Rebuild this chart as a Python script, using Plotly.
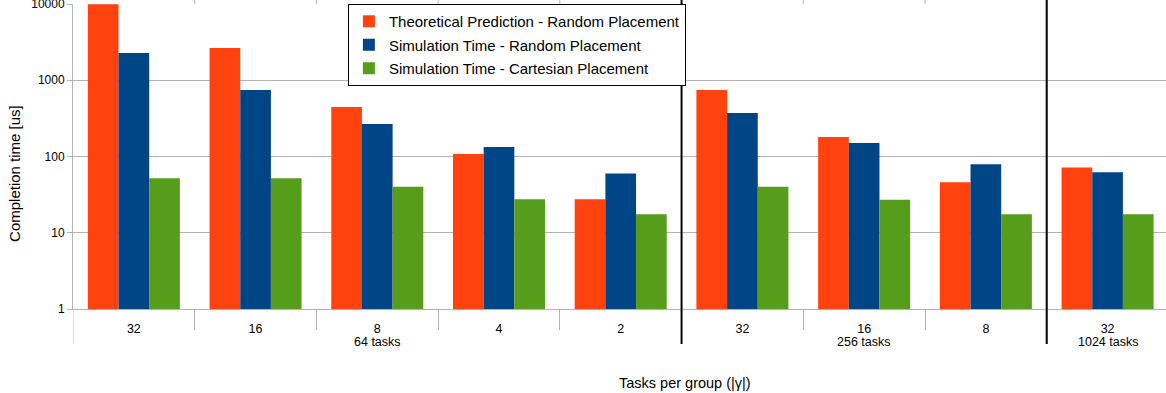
import plotly.graph_objects as go

# Tasks per group, grouped by total task count
group_names = ["64 tasks", "256 tasks", "1024 tasks"]
group_sizes = [5, 3, 1]
tick_labels = ["32", "16", "8", "4", "2", "32", "16", "8", "32"]

series_names = [
    "Theoretical Prediction - Random Placement",
    "Simulation Time - Random Placement",
    "Simulation Time - Cartesian Placement",
]
theoretical_random = [9900, 2650, 445, 108, 27.5, 745, 180, 46, 72]
simulation_random = [2280, 745, 268, 133, 60, 372, 150, 79, 62]
simulation_cartesian = [52, 52, 40, 27.5, 17.5, 40, 27, 17.5, 17.5]

colors = ["#FF420E", "#004586", "#579D1C"]
GRID = "#b3b3b3"
FONT = "Liberation Sans, Arial, sans-serif"

x_pos = list(range(len(tick_labels)))

fig = go.Figure()
for name, vals, col in zip(series_names,
                           [theoretical_random, simulation_random, simulation_cartesian],
                           colors):
    fig.add_trace(go.Bar(
        x=x_pos, y=vals, name=name, marker=dict(color=col, line=dict(width=0)),
        legendgroup=name,
    ))

# boundaries between categories and between task-count groups
boundaries = [i + 0.5 for i in range(len(tick_labels) - 1)]
group_edges = []
acc = 0
for s in group_sizes[:-1]:
    acc += s
    group_edges.append(acc - 0.5)
minor_bounds = [b for b in boundaries if b not in group_edges]

shapes = []
# heavy separators between task-count groups
for e in group_edges:
    shapes.append(dict(type="line", xref="x", yref="paper", x0=e, x1=e,
                       y0=-0.115, y1=1.02, line=dict(color="black", width=2)))
# short marks above the plot at category boundaries
for b in minor_bounds:
    shapes.append(dict(type="line", xref="x", yref="paper", x0=b, x1=b,
                       y0=1.0, y1=1.02, line=dict(color=GRID, width=1)))
# left axis line continues through the label area
shapes.append(dict(type="line", xref="x", yref="paper", x0=-0.5, x1=-0.5,
                   y0=-0.115, y1=0, line=dict(color=GRID, width=1)))

annotations = []
start = 0
for gname, s in zip(group_names, group_sizes):
    center = start + (s - 1) / 2
    annotations.append(dict(text=gname, x=center, xref="x", y=0, yref="paper",
                            yshift=-33, yanchor="middle", showarrow=False,
                            font=dict(family=FONT, size=12.5, color="black")))
    start += s

annotations.append(dict(text="Tasks per group (|γ|)", x=0.56, xref="paper",
                        y=-0.243, yref="paper", xanchor="center", yanchor="middle",
                        showarrow=False, font=dict(family=FONT, size=14.5, color="black")))
annotations.append(dict(text="Completion time [us]", x=-0.053, xref="paper",
                        y=0.443, yref="paper", xanchor="center", yanchor="middle",
                        textangle=-90, showarrow=False,
                        font=dict(family=FONT, size=15, color="black")))

fig.update_layout(
    width=1166, height=393,
    margin=dict(l=73, r=0, t=4, b=84, autoexpand=False),
    paper_bgcolor="white", plot_bgcolor="white",
    barmode="group", bargap=0.244, bargroupgap=0,
    font=dict(family=FONT, color="black"),
    shapes=shapes, annotations=annotations,
    legend=dict(
        x=0.2515, y=1.0, xanchor="left", yanchor="top",
        bgcolor="white", bordercolor="black", borderwidth=1,
        font=dict(family=FONT, size=15, color="black"),
        tracegroupgap=1, itemwidth=30,
    ),
)

fig.update_xaxes(
    range=[-0.5, 8.48], tickmode="array", tickvals=x_pos, ticktext=tick_labels,
    ticks="", ticklabelstandoff=8, showgrid=False, zeroline=False,
    showline=True, linecolor=GRID, linewidth=1, automargin=False,
    tickfont=dict(family=FONT, size=12.5, color="black"),
    minor=dict(tickvals=minor_bounds, ticks="outside", ticklen=20,
               tickcolor=GRID, tickwidth=1, showgrid=False),
)
fig.update_yaxes(
    type="log", range=[0, 4.0005], tickmode="array",
    tickvals=[1, 10, 100, 1000, 10000], ticktext=["1", "10", "100", "1000", "10000"],
    ticks="outside", ticklen=5, tickcolor=GRID, ticklabeloverflow="allow",
    showgrid=True, gridcolor=GRID, gridwidth=1, automargin=False,
    showline=True, linecolor=GRID, linewidth=1,
    tickfont=dict(family=FONT, size=12, color="black"),
)

fig.write_html("out.html")
